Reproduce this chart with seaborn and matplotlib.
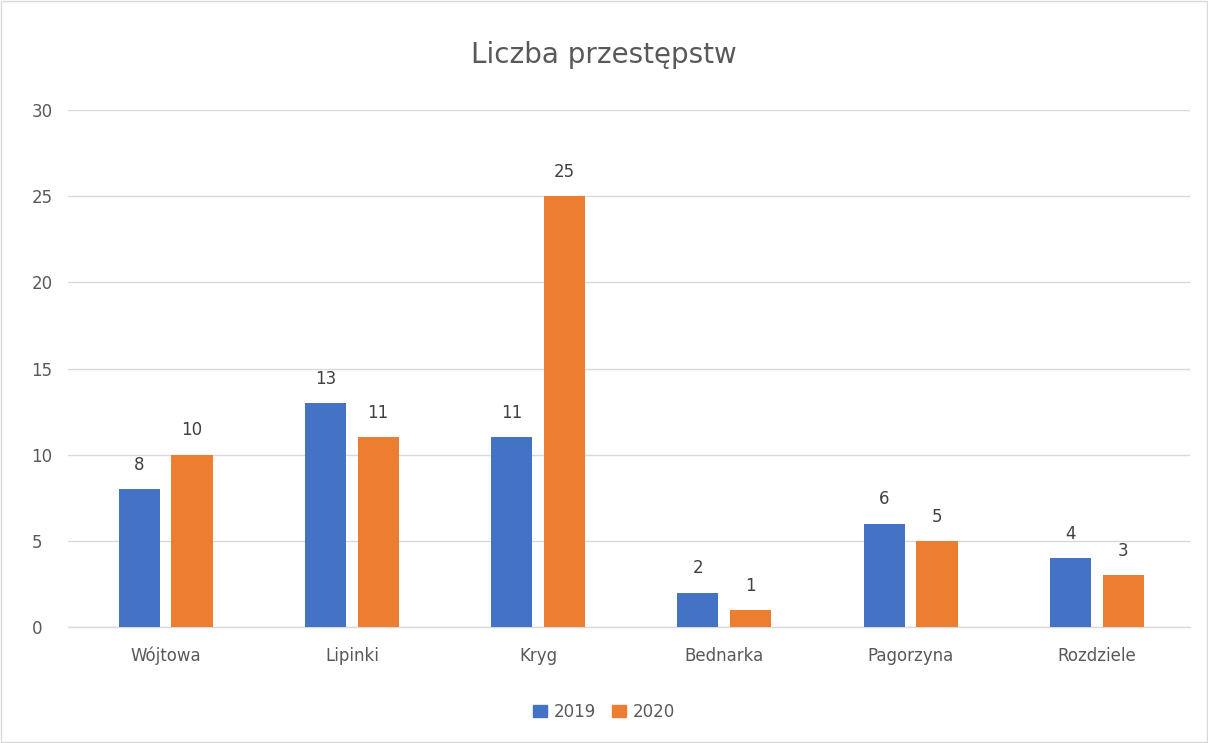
import numpy as np
import pandas as pd
import matplotlib
matplotlib.use("Agg")
import matplotlib.pyplot as plt
import seaborn as sns

# ---------------- data ----------------
villages = ["Wójtowa", "Lipinki", "Kryg", "Bednarka", "Pagorzyna", "Rozdziele"]
crimes_2019 = [8, 13, 11, 2, 6, 4]
crimes_2020 = [10, 11, 25, 1, 5, 3]
years = ["2019", "2020"]

df = pd.DataFrame({
    "Miejscowość": villages * 2,
    "Rok": [years[0]] * len(villages) + [years[1]] * len(villages),
    "Liczba": crimes_2019 + crimes_2020,
})

# ---------------- style ----------------
sns.set_theme(style="white")
plt.rcParams["font.family"] = ["DejaVu Sans"]
palette = {"2019": "#4472C4", "2020": "#ED7D31"}
text_col = "#595959"
grid_col = "#D9D9D9"

fig = plt.figure(figsize=(12.08, 7.43), dpi=100)
ax = fig.add_axes([0.056, 0.156, 0.929, 0.696])

sns.barplot(data=df, x="Miejscowość", y="Liczba", hue="Rok", order=villages,
            hue_order=years, palette=palette, width=0.567, gap=0.22,
            saturation=1, linewidth=0, ax=ax, zorder=3)

for cont in ax.containers:
    ax.bar_label(cont, padding=11, fontsize=12, color="#404040")

ax.set_ylim(0, 30)
ax.set_yticks(range(0, 31, 5))
ax.set_xlim(-0.526, len(villages) - 0.5)
ax.yaxis.grid(True, color=grid_col, linewidth=1, zorder=0)
ax.set_axisbelow(True)
for s in ax.spines.values():
    s.set_visible(False)
ax.axhline(0, color=grid_col, linewidth=1, zorder=1, clip_on=False)
ax.tick_params(axis="both", length=0, labelsize=12, labelcolor=text_col)
ax.tick_params(axis="x", pad=14)
ax.tick_params(axis="y", pad=26)
for lbl in ax.get_yticklabels():
    lbl.set_horizontalalignment("left")
ax.set_xlabel("")
ax.set_ylabel("")

fig.suptitle("Liczba przestępstw", y=0.945, fontsize=20, color=text_col)

ax.legend_.remove()
handles = [plt.Rectangle((0, 0), 1, 1, color=palette[y]) for y in years]
fig.legend(handles, years, loc="center", bbox_to_anchor=(0.5, 0.042), ncol=2,
           frameon=False, fontsize=12, handlelength=0.8, handleheight=0.8,
           handletextpad=0.4, columnspacing=1.0, labelcolor=text_col)

# light border round the whole chart
fig.patches.append(plt.Rectangle((0.001, 0.001), 0.998, 0.998, transform=fig.transFigure,
                                 fill=False, edgecolor="#D9D9D9", linewidth=1))

fig.savefig("out.png", dpi=100)
